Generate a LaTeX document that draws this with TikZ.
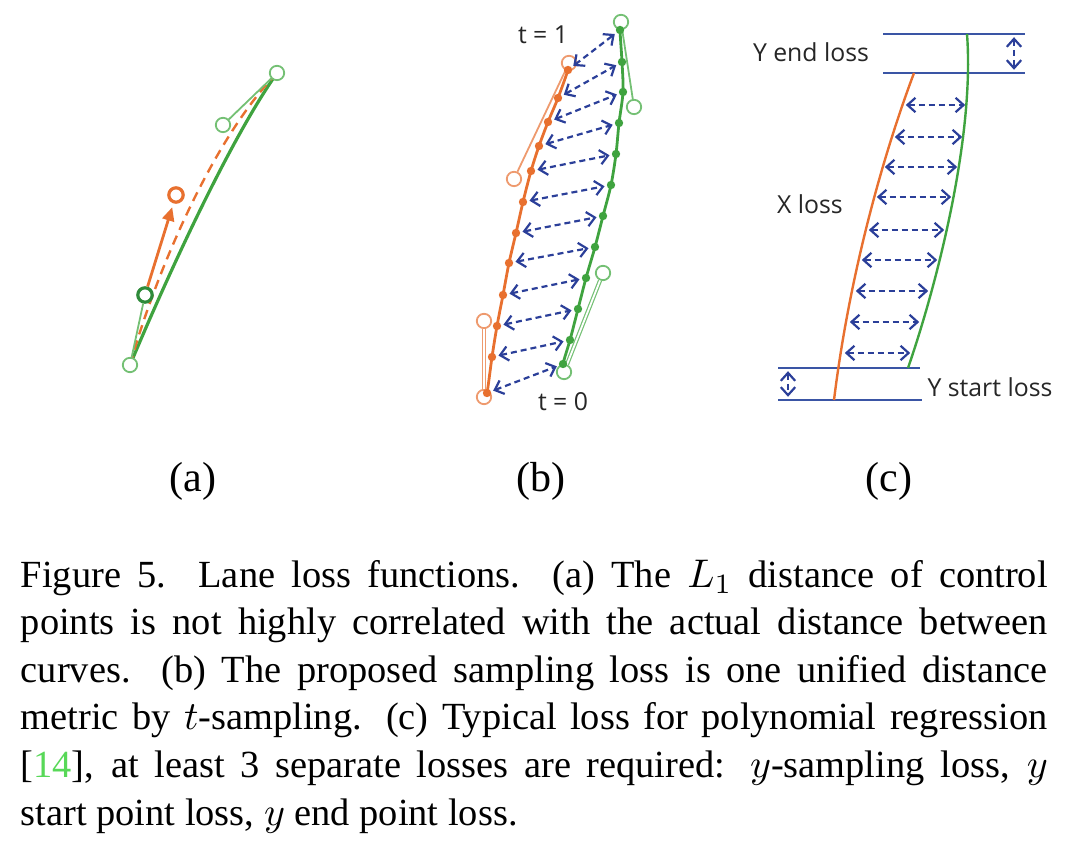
\documentclass[tikz,border=0pt]{standalone}
\usepackage{fontspec}
\setmainfont{Liberation Serif}
\newfontfamily\labelfont{Open Sans}
\usetikzlibrary{arrows.meta}
\definecolor{lnorange}{HTML}{E8702F}
\definecolor{ctlorange}{HTML}{EE9A6E}
\definecolor{lngreen}{HTML}{3FA33F}
\definecolor{ctlgreen}{HTML}{74C074}
\definecolor{dkgreen}{HTML}{2E8B3A}
\definecolor{lossblue}{HTML}{2B3F99}
\definecolor{guideblue}{HTML}{3A55A5}
\definecolor{citegreen}{HTML}{58D858}
\tikzset{
  grnctrl/.style={circle,draw=ctlgreen,fill=white,line width=0.45pt,
                  minimum size=3.6pt,inner sep=0pt},
  orgctrl/.style={grnctrl,draw=ctlorange},
  grndot/.style={circle,fill=lngreen,minimum size=2.1pt,inner sep=0pt},
  orgdot/.style={grndot,fill=lnorange},
  grncurve/.style={draw=lngreen,line width=0.7pt},
  orgcurve/.style={draw=lnorange,line width=0.7pt},
  ctlline/.style={draw=ctlgreen,line width=0.45pt},
  lossarr/.style={{Straight Barb[length=2pt,width=3.6pt]}-{Straight Barb[length=2pt,width=3.6pt]},
                  line width=0.55pt,draw=lossblue,dash pattern=on 1.5pt off 1pt},
  guide/.style={draw=guideblue,line width=0.5pt},
  lbl/.style={font=\labelfont\fontsize{6.2}{7}\selectfont,text=black!85,inner sep=0pt},
  sublbl/.style={font=\fontsize{10.5}{12}\selectfont,inner sep=0pt,anchor=base}
}

\begin{document}
\begin{tikzpicture}[x=0.25pt,y=-0.25pt]
    \path[use as bounding box] (0,0) rectangle (1080,841);

    % (a) control points
    \coordinate (pa0) at (130,365);
    \coordinate (pa1) at (145,295);
    \coordinate (pa2) at (223,125);
    \coordinate (pa3) at (277,73);
    \draw[grncurve,line width=0.8pt] (pa0) .. controls (170,270) and (230,140) .. (pa3);
    \draw[orgcurve,line width=0.6pt,dash pattern=on 2.4pt off 1.6pt] (pa0) .. controls (155,275) and (212,140) .. (pa3);
    \node[grnctrl] (a0) at (pa0) {};
    \node[grnctrl,draw=dkgreen,line width=0.8pt] (a1) at (pa1) {};
    \node[grnctrl] (a2) at (pa2) {};
    \node[grnctrl] (a3) at (pa3) {};
    \node[orgctrl,draw=lnorange,line width=0.8pt] (a1p) at (176,195) {};
    \draw[ctlline] (a0) -- (a1);
    \draw[ctlline] (a2) -- (a3);
    \draw[orgcurve,-{Triangle[length=3.4pt,width=3pt]},shorten >=1pt] (a1) -- (a1p);

    % (b) t-sampling
    \foreach \i/\ox/\oy/\gx/\gy in {0/487/393/563/364,1/492/357/570/340,2/497/326/578/309,
        3/503/295/586/278,4/509/263/595/247,5/516/233/603/216,6/523/202/611/185,
        7/531/171/616/154,8/539/146/619/123,9/548/122/623/92,10/558/98/622/62,11/568/70/620/30}{
      \coordinate (o\i) at (\ox,\oy);
      \coordinate (g\i) at (\gx,\gy);
    }
    \draw[orgcurve] plot[smooth] coordinates {(484,397) (o0) (o1) (o2) (o3) (o4) (o5)
        (o6) (o7) (o8) (o9) (o10) (o11) (569,63)};
    \draw[grncurve] plot[smooth] coordinates {(564,372) (g0) (g1) (g2) (g3) (g4) (g5)
        (g6) (g7) (g8) (g9) (g10) (g11) (621,22)};
    \node[orgctrl] (b0) at (484,397) {};
    \node[orgctrl] (b1) at (484,321) {};
    \node[orgctrl] (b2) at (514,179) {};
    \node[orgctrl] (b3) at (569,63) {};
    \node[grnctrl] (c0) at (564,372) {};
    \node[grnctrl] (c1) at (603,273) {};
    \node[grnctrl] (c2) at (634,107) {};
    \node[grnctrl] (c3) at (621,22) {};
    \draw[ctlline,draw=ctlorange,line width=0.3pt,double=white,double distance=0.45pt] (b0) -- (b1);
    \draw[ctlline,draw=ctlorange] (b2) -- (b3);
    \draw[ctlline,line width=0.3pt,double=white,double distance=0.45pt] (c0) -- (c1);
    \draw[ctlline] (c2) -- (c3);
    \foreach \i in {0,...,11}{
      \node[orgdot] (od\i) at (o\i) {};
      \node[grndot] (gd\i) at (g\i) {};
      \draw[lossarr,shorten <=0.4pt,shorten >=0.4pt] (od\i) -- (gd\i);
    }
    \node[lbl] (tone) at (543,35) {t = 1};
    \node[lbl] (tzero) at (563,402) {t = 0};

    % (c) polynomial regression
    \draw[guide] (883,34) -- (1025,34);
    \draw[guide] (883,73) -- (1025,73);
    \draw[guide] (778,368) -- (920,368);
    \draw[guide] (778,400) -- (922,400);
    \draw[grncurve,line width=0.6pt] (967,34) .. controls (975,140) and (935,290) .. (908,368);
    \draw[orgcurve,line width=0.6pt] (914,73) .. controls (885,150) and (850,270) .. (834,400);
    \foreach \i/\yy/\xl/\xr in {0/105/903/968,1/137/892/965,2/167/882/960,3/197/874/954,
        4/230/866/947,5/260/859/940,6/291/853/931,7/322/847/922,8/353/842/913}{
      \coordinate (xl\i) at (\xl,\yy);
      \coordinate (xr\i) at (\xr,\yy);
      \draw[lossarr,shorten <=0.7pt,shorten >=0.7pt] (xl\i) -- (xr\i);
    }
    \coordinate (yet) at (1014,34);
    \coordinate (yeb) at (1014,73);
    \coordinate (yst) at (788,368);
    \coordinate (ysb) at (788,400);
    \draw[lossarr,shorten <=0.8pt,shorten >=0.8pt] (yet) -- (yeb);
    \draw[lossarr,shorten <=0.8pt,shorten >=0.8pt] (yst) -- (ysb);
    \node[lbl] (yend) at (811,52) {Y end loss};
    \node[lbl] (xloss) at (810,204) {X loss};
    \node[lbl] (ystart) at (990,387) {Y start loss};

    % sub-figure labels and caption
    \node[sublbl] (suba) at (193,492) {(a)};
    \node[sublbl] (subb) at (541,492) {(b)};
    \node[sublbl] (subc) at (889,492) {(c)};
    \node[anchor=north west,inner sep=0pt,text width=256.75pt,align=justify,
          font=\fontsize{9.6}{11.9}\selectfont] (cap) at (20,559)
      {Figure 5.\ \ Lane loss functions. (a) The $L_1$ distance of control\linebreak
       points is not highly correlated with the actual distance between\linebreak
       curves. (b) The proposed sampling loss is one unified distance\linebreak
       metric by $t$-sampling. (c) Typical loss for polynomial regression\linebreak
       {[}\textcolor{citegreen}{14}], at least 3 separate losses are required: $y$-sampling loss, $y$\linebreak
       start point loss, $y$ end point loss.};
  \end{tikzpicture}
\end{document}
